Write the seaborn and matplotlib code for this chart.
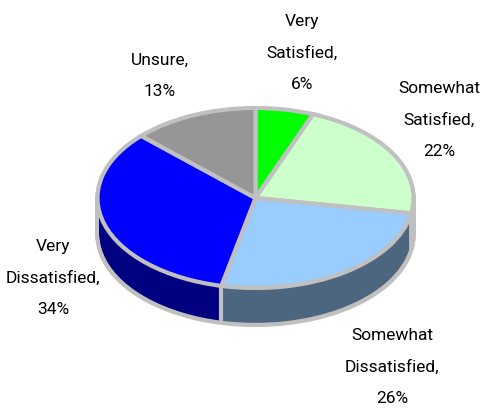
import numpy as np
import matplotlib
matplotlib.use("Agg")
import matplotlib.pyplot as plt
import seaborn as sns

sns.set_theme(style="white")
plt.rcParams['font.family'] = ['Roboto', 'DejaVu Sans']

labels = ["Very\nSatisfied,\n6%", "Somewhat\nSatisfied,\n22%", "Somewhat\nDissatisfied,\n26%",
          "Very\nDissatisfied,\n34%", "Unsure,\n13%"]
values = [6, 22, 26, 34, 13]
top_colors = ["#00ff00", "#ccffcc", "#99ccff", "#0000ff", "#969696"]
side_colors = ["#008000", "#c0c0c0", "#4d6680", "#000080", "#4b4b4b"]
edge = "#c0c0c0"

W, H = 482, 409
cx, cy, rx, ry, depth = 255.5, 198, 158, 90, 37


def to_y(py):
    # y in pixels from the top -> data y, the axes squash it into an ellipse
    return (H - py) / ry * rx


fig = plt.figure(figsize=(W / 100, H / 100), dpi=100)
ax = fig.add_axes([0, 0, 1, 1])

# grey outline of the wall
for d in range(depth, 0, -1):
    ax.pie([1], colors=[edge], startangle=90, center=(cx, to_y(cy + d)), radius=rx,
           wedgeprops=dict(edgecolor=edge, linewidth=3))
# coloured wall, a bit smaller so the outline stays visible
for d in range(depth - 1, 0, -1):
    ax.pie(values, colors=side_colors, startangle=90, counterclock=False, center=(cx, to_y(cy + d)),
           radius=rx - 2, wedgeprops=dict(edgecolor="none", linewidth=0))
# top face
ax.pie(values, colors=top_colors, startangle=90, counterclock=False, center=(cx, to_y(cy)),
       radius=rx, wedgeprops=dict(edgecolor=edge, linewidth=3))

# vertical seam on the front wall
theta = np.deg2rad(360 * sum(values[:3]) / sum(values))
sx = cx + rx * np.sin(theta)
sy = cy - ry * np.cos(theta)
ax.plot([sx, sx], [to_y(sy), to_y(sy + depth)], color=edge, lw=3, solid_capstyle='butt')

ax.set_aspect('auto')
ax.set_xlim(0, W)
ax.set_ylim(0, to_y(0))
ax.axis('off')

# label positions in pixels of the figure
pos = [(302, 53), (439, 120), (392, 367), (53, 278), (160, 76)]
for t, (x, y) in zip(labels, pos):
    fig.text(x / W, 1 - y / H, t, ha='center', va='center', fontsize=12.5, color='black', linespacing=2.35)

fig.savefig("out.png", dpi=100)
